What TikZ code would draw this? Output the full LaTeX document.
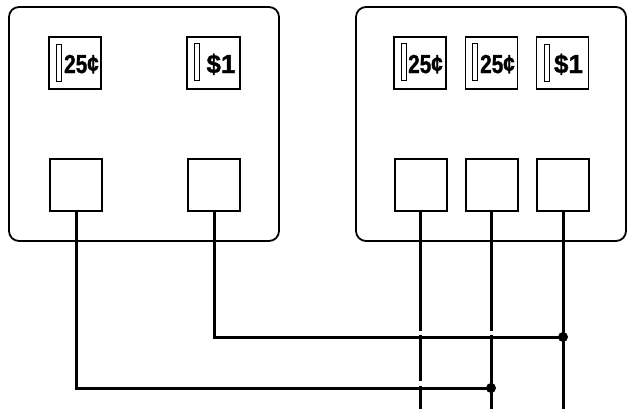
\documentclass[tikz,border=0pt]{standalone}
\usepackage{fontspec}
\setmainfont{Liberation Sans}
\newfontfamily\lblfont{Liberation Sans}[BoldFeatures={FakeBold=1.2}]
\begin{document}
\begin{tikzpicture}[x=1pt,y=-1pt,
  panel/.style={draw,line width=1.8pt,rounded corners=10pt},
  coinbox/.style={draw,line width=1.6pt,minimum width=52pt,minimum height=52pt,inner sep=0pt},
  swbox/.style={draw,line width=2pt,minimum width=52pt,minimum height=52pt,inner sep=0pt},
  slot/.style={draw,line width=0.9pt,minimum width=4.5pt,minimum height=37pt,inner sep=0pt},
  lbl/.style={font=\lblfont\bfseries\fontsize{26}{26}\selectfont,inner sep=0pt,anchor=base},
  wire/.style={line width=3pt},
  junct/.style={circle,fill,inner sep=0pt,minimum size=10pt}]
\useasboundingbox (0,0) rectangle (628,408);
% panels
\draw[panel] (9,7) rectangle (279,241);
\draw[panel] (356,7) rectangle (626,241);
% coin slot boxes
\node[coinbox] (c1) at (75,63) {};
\node[coinbox,minimum width=53pt] (c2) at (213.5,63) {};
\node[coinbox] (c3) at (420,63) {};
\node[coinbox] (c4) at (491.5,63) {};
\node[coinbox] (c5) at (562.5,63) {};
\node[slot] (s1) at (59,63) {};
\node[slot] (s2) at (197,62) {};
\node[slot] (s3) at (404,62) {};
\node[slot] (s4) at (475,62) {};
\node[slot] (s5) at (547,63) {};
\node[lbl] (t1) at (81.5,73) {\scalebox{0.8}[1]{25¢}};
\node[lbl] (t2) at (221,73) {\$1};
\node[lbl] (t3) at (425.5,73) {\scalebox{0.8}[1]{25¢}};
\node[lbl] (t4) at (497.5,73) {\scalebox{0.8}[1]{25¢}};
\node[lbl] (t5) at (568.5,73) {\$1};
% switch boxes
\node[swbox] (b1) at (76,185) {};
\node[swbox] (b2) at (214,185) {};
\node[swbox] (b3) at (420.5,185) {};
\node[swbox] (b4) at (491.5,185) {};
\node[swbox] (b5) at (563,185) {};
% coordinates
\coordinate (j1) at (563,337);
\coordinate (j2) at (491,388);
\coordinate (g3a) at (420,330.5);
\coordinate (g3b) at (420,335);
\coordinate (g3c) at (420,381);
\coordinate (g3d) at (420,386);
\coordinate (e3) at (420,412);
\coordinate (g4a) at (491,330.5);
\coordinate (g4b) at (491,335);
\coordinate (e4) at (491,412);
\coordinate (e5) at (563,412);
% wires
\draw[wire] (b2.south) |- (j1);
\draw[wire] (b1.south) |- (j2);
\draw[wire] (b3.south -| g3a) -- (g3a);
\draw[wire] (g3b) -- (g3c);
\draw[wire] (g3d) -- (e3);
\draw[wire] (b4.south -| g4a) -- (g4a);
\draw[wire] (g4b) -- (e4);
\draw[wire] (b5.south) -- (e5);
\node[junct] at (j1) {};
\node[junct] at (j2) {};
\end{tikzpicture}
\end{document}
